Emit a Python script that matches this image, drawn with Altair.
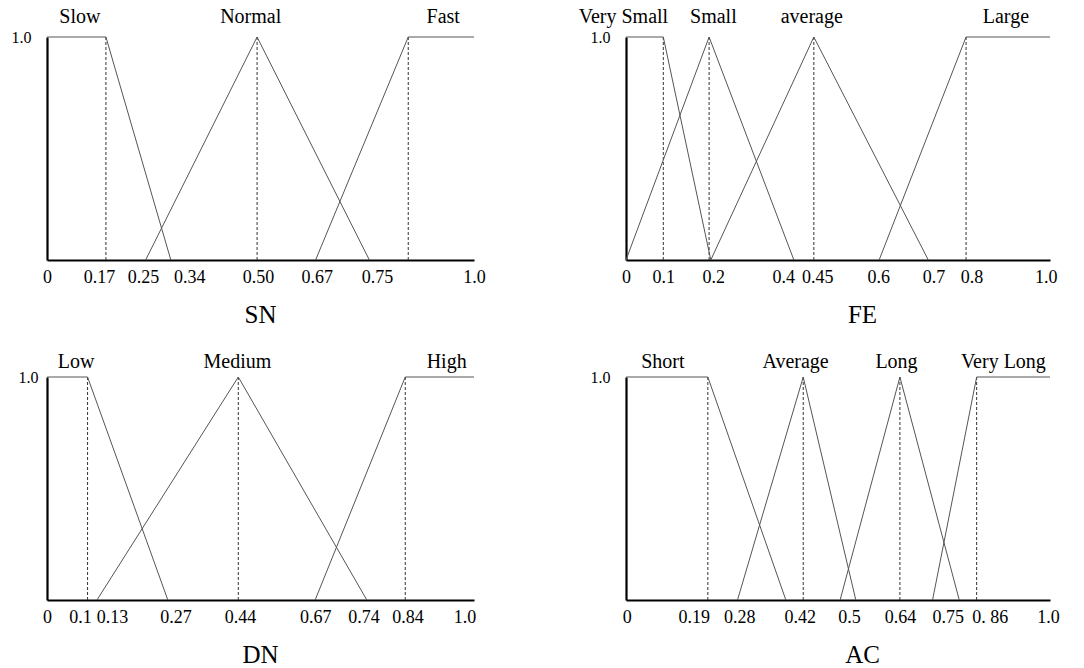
import altair as alt
import pandas as pd

FONT = "Liberation Serif"

# ---------------- SN ----------------
SN_names = ["Slow", "Normal", "Fast"]
SN_x = [[0, 0.138, 0.29], [0.231, 0.492, 0.755], [0.629, 0.846, 1.0]]
SN_y = [[1, 1, 0], [0, 1, 0], [0, 1, 1]]
SN_peaks = [0.138, 0.492, 0.846]
SN_label_x = [0.077, 0.477, 0.928]
SN_ticks = [0, 0.122, 0.225, 0.333, 0.494, 0.632, 0.773, 1.0]
SN_tick_labels = ["0", "0.17", "0.25", "0.34", "0.50", "0.67", "0.75", "1.0"]

# ---------------- FE ----------------
FE_names = ["Very Small", "Small", "average", "Large"]
FE_x = [[0, 0.088, 0.20], [0, 0.196, 0.396], [0.20, 0.443, 0.713], [0.597, 0.802, 1.0]]
FE_y = [[1, 1, 0], [0, 1, 0], [0, 1, 0], [0, 1, 1]]
FE_peaks = [0.088, 0.196, 0.443, 0.802]
FE_label_x = [-0.006, 0.206, 0.438, 0.896]
FE_ticks = [0, 0.088, 0.206, 0.371, 0.451, 0.595, 0.725, 0.815, 0.99]
FE_tick_labels = ["0", "0.1", "0.2", "0.4", "0.45", "0.6", "0.7", "0.8", "1.0"]

# ---------------- DN ----------------
DN_names = ["Low", "Medium", "High"]
DN_x = [[0, 0.095, 0.283], [0.117, 0.448, 0.749], [0.628, 0.839, 1.0]]
DN_y = [[1, 1, 0], [0, 1, 0], [0, 1, 1]]
DN_peaks = [0.095, 0.448, 0.839]
DN_label_x = [0.068, 0.446, 0.936]
DN_ticks = [0, 0.077, 0.152, 0.301, 0.452, 0.628, 0.741, 0.844, 0.978]
DN_tick_labels = ["0", "0.1", "0.13", "0.27", "0.44", "0.67", "0.74", "0.84", "1.0"]

# ---------------- AC ----------------
AC_names = ["Short", "Average", "Long", "Very Long"]
AC_x = [[0, 0.193, 0.377], [0.263, 0.418, 0.542], [0.505, 0.646, 0.786], [0.723, 0.827, 1.0]]
AC_y = [[1, 1, 0], [0, 1, 0], [0, 1, 0], [0, 1, 1]]
AC_peaks = [0.193, 0.418, 0.646, 0.827]
AC_label_x = [0.087, 0.40, 0.638, 0.89]
AC_ticks = [0.002, 0.16, 0.267, 0.41, 0.526, 0.646, 0.759, 0.858, 0.995]
AC_tick_labels = ["0", "0.19", "0.28", "0.42", "0.5", "0.64", "0.75", "0. 86", "1.0"]


def panel(title, names, xs, ys, peaks, label_x, ticks, tick_labels,
          width, ypad, title_x, lab_dy):
    rows = []
    for n, xl, yl in zip(names, xs, ys):
        for i, (x, y) in enumerate(zip(xl, yl)):
            rows.append({"set": n, "x": x, "y": y, "order": i})
    df = pd.DataFrame(rows)

    xscale = alt.Scale(domain=[0, 1], nice=False, zero=False)
    yscale = alt.Scale(domain=[0, 1], nice=False, zero=False)

    lab_arr = "[" + ",".join("'" + s + "'" for s in tick_labels) + "]"
    val_arr = "[" + ",".join(repr(v) for v in ticks) + "]"
    label_expr = f"{lab_arr}[indexof({val_arr}, datum.value)]"

    xaxis = alt.Axis(
        values=ticks, labelExpr=label_expr, title=title, grid=False,
        ticks=False, tickSize=0, domainColor="black", domainWidth=2.2,
        labelFont=FONT, labelFontSize=18, labelColor="black",
        labelBaseline="alphabetic", labelPadding=22, labelFlush=False,
        labelOverlap=False, titleFont=FONT, titleFontSize=25,
        titleFontWeight="normal", titleColor="black", titleX=title_x,
        titleY=62, titleBaseline="alphabetic", titleAlign="center",
    )
    yaxis = alt.Axis(
        values=[1], format=".1f", title=None, grid=False, ticks=False,
        tickSize=0, domainColor="black", domainWidth=2.2, labelFont=FONT,
        labelFontSize=16, labelColor="black", labelPadding=ypad,
        labelBaseline="middle",
    )

    lines = alt.Chart(df).mark_line(color="#555555", strokeWidth=1).encode(
        x=alt.X("x:Q", scale=xscale, axis=xaxis),
        y=alt.Y("y:Q", scale=yscale, axis=yaxis),
        detail="set:N",
        order="order:Q",
    )
    rules_df = pd.DataFrame({"x": peaks, "y0": [0] * len(peaks), "y1": [1] * len(peaks)})
    rules = alt.Chart(rules_df).mark_rule(
        color="#333333", strokeDash=[3, 2], strokeWidth=1
    ).encode(
        x=alt.X("x:Q", scale=xscale),
        y=alt.Y("y0:Q", scale=yscale),
        y2="y1:Q",
    )
    text_df = pd.DataFrame({"x": label_x, "label": names, "y": [1] * len(names)})
    texts = alt.Chart(text_df).mark_text(
        font=FONT, fontSize=20, baseline="alphabetic", align="center",
        dy=lab_dy, color="black",
    ).encode(
        x=alt.X("x:Q", scale=xscale),
        y=alt.Y("y:Q", scale=yscale),
        text="label:N",
    )
    return alt.layer(rules, lines, texts).properties(width=width, height=223)


sn = panel("SN", SN_names, SN_x, SN_y, SN_peaks, SN_label_x, SN_ticks,
           SN_tick_labels, 427, 16, 213, -14)
fe = panel("FE", FE_names, FE_x, FE_y, FE_peaks, FE_label_x, FE_ticks,
           FE_tick_labels, 424, 16, 236, -14)
dn = panel("DN", DN_names, DN_x, DN_y, DN_peaks, DN_label_x, DN_ticks,
           DN_tick_labels, 427, 9, 213, -9)
ac = panel("AC", AC_names, AC_x, AC_y, AC_peaks, AC_label_x, AC_ticks,
           AC_tick_labels, 424, 16, 236, -9)

chart = alt.concat(
    sn, fe, dn, ac, columns=2,
    spacing={"row": 117, "column": 152}, bounds="flush",
).properties(
    padding={"left": 11, "top": 7, "right": 5, "bottom": 5},
    background="white",
).configure_view(stroke=None)

chart.save("out.html", embed_options={"renderer": "svg", "actions": False})
